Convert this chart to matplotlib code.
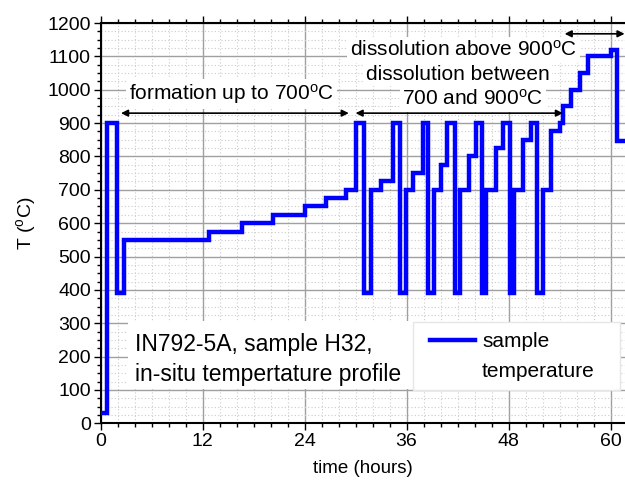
import matplotlib
matplotlib.use("Agg")
import matplotlib.pyplot as plt
import numpy as np
from matplotlib.lines import Line2D
from matplotlib.patches import Rectangle
from matplotlib.ticker import MultipleLocator

# Heating program: each hold starts at step_start (hours) at step_temp (degC)
step_start = [0, 0.75, 1.9, 2.8, 12.8, 16.6, 20.3, 24.0, 26.5, 28.9,
              30.1, 31.0, 31.8, 33.0, 34.4,
              35.2, 35.9, 36.8, 37.9,
              38.5, 39.2, 40.0, 40.8,
              41.7, 42.3, 43.3, 44.2,
              44.9, 45.4, 46.5, 47.4,
              48.2, 48.6, 49.7, 50.6,
              51.3, 52.0, 53.0, 54.0,
              54.4, 55.4, 56.4, 57.4, 60.1, 60.7]
step_temp = [30, 900, 390, 550, 575, 600, 625, 650, 675, 700,
             900, 390, 700, 725, 900,
             390, 700, 750, 900,
             390, 700, 775, 900,
             390, 700, 800, 900,
             390, 700, 825, 900,
             390, 700, 850, 900,
             390, 700, 875, 900,
             950, 1000, 1050, 1100, 1120, 845]
t_end = 61.7

x_ticks = [0, 12, 24, 36, 48, 60]
y_ticks = list(range(0, 1201, 100))

# phase arrows (start h, end h, level degC)
arrow_formation = (2.4, 29.2, 930)
arrow_between = (30.0, 54.4, 930)
arrow_above = (54.6, 61.65, 1168)


def main():
    plt.rcParams["font.family"] = ["Liberation Sans", "DejaVu Sans"]
    plt.rcParams["mathtext.fontset"] = "custom"
    plt.rcParams["mathtext.rm"] = "Liberation Sans"
    plt.rcParams["mathtext.it"] = "Liberation Sans:italic"

    fig = plt.figure(figsize=(6.25, 4.82), dpi=100)
    ax = fig.add_axes([0.161, 0.122, 0.839, 0.830])

    t = np.array(step_start + [t_end], dtype=float)
    T = np.array(step_temp + [step_temp[-1]], dtype=float)
    line, = ax.step(t, T, where="post", color="#0000ff", lw=3.2,
                    zorder=5, solid_joinstyle="miter")

    ax.set_xlim(0, t_end)
    ax.set_ylim(0, 1200)
    ax.set_xticks(x_ticks)
    ax.set_yticks(y_ticks)
    ax.xaxis.set_minor_locator(MultipleLocator(2))
    ax.yaxis.set_minor_locator(MultipleLocator(25))

    ax.grid(which="major", color="#a0a0a0", lw=1.0, ls="-", zorder=0)
    ax.grid(which="minor", color="#cccccc", lw=0.8, ls=(0, (1, 2)), zorder=0)
    ax.set_axisbelow(True)

    ax.tick_params(which="both", direction="out", top=True, labeltop=False,
                   right=False, width=1.0, labelsize=14, pad=2)
    ax.tick_params(which="major", length=5)
    ax.tick_params(which="minor", length=3)
    for s in ["left", "bottom", "top"]:
        ax.spines[s].set_linewidth(1.5)
    ax.spines["right"].set_visible(False)

    ax.set_xlabel("time (hours)", fontsize=13.5, labelpad=7)
    ax.set_ylabel(r"T ($^{\rm o}$C)", fontsize=14)
    ax.yaxis.set_label_coords(-0.12, 0.5)

    box = dict(facecolor="white", edgecolor="none", pad=2)
    arrow_kw = dict(arrowstyle="<|-|>", color="black", lw=1.2,
                    mutation_scale=10, shrinkA=0, shrinkB=0)
    for a0, a1, lev in [arrow_formation, arrow_between, arrow_above]:
        ax.annotate("", xy=(a1, lev), xytext=(a0, lev),
                    arrowprops=arrow_kw, annotation_clip=False, zorder=6)

    ax.text(15.4, 987, r"formation up to 700$^{\rm o}$C", fontsize=15,
            ha="center", va="center", bbox=box, zorder=4)
    ax.text(42.7, 1120, r"dissolution above 900$^{\rm o}$C", fontsize=15,
            ha="center", va="center", bbox=box, zorder=4)
    ax.text(42.0, 1047, "dissolution between", fontsize=15,
            ha="center", va="center", bbox=box, zorder=4)
    ax.text(43.8, 973, r"700 and 900$^{\rm o}$C", fontsize=15,
            ha="center", va="center", bbox=box, zorder=4)

    # white panels behind the caption and the legend
    ax.add_patch(Rectangle((0.052, 0.085), 0.544, 0.171, transform=ax.transAxes,
                           facecolor="white", edgecolor="none", zorder=6))
    ax.add_patch(Rectangle((0.596, 0.083), 0.394, 0.17, transform=ax.transAxes,
                           facecolor="white", edgecolor="#e6e6e6", lw=1.0,
                           zorder=6))

    ax.text(4.1, 190, "IN792-5A, sample H32,\nin-situ tempertature profile",
            fontsize=16.5, ha="left", va="center", linespacing=1.4, zorder=7)

    blank = Line2D([], [], color="none")
    leg = ax.legend([line, blank], ["sample", "temperature"],
                    loc="upper left", bbox_to_anchor=(0.628, 0.228),
                    fontsize=15, frameon=False, handlelength=2.15,
                    handletextpad=0.35, borderpad=0, labelspacing=0.55,
                    borderaxespad=0)
    leg.set_zorder(8)

    fig.savefig("out.png", dpi=100)
    plt.close(fig)


if __name__ == "__main__":
    main()
